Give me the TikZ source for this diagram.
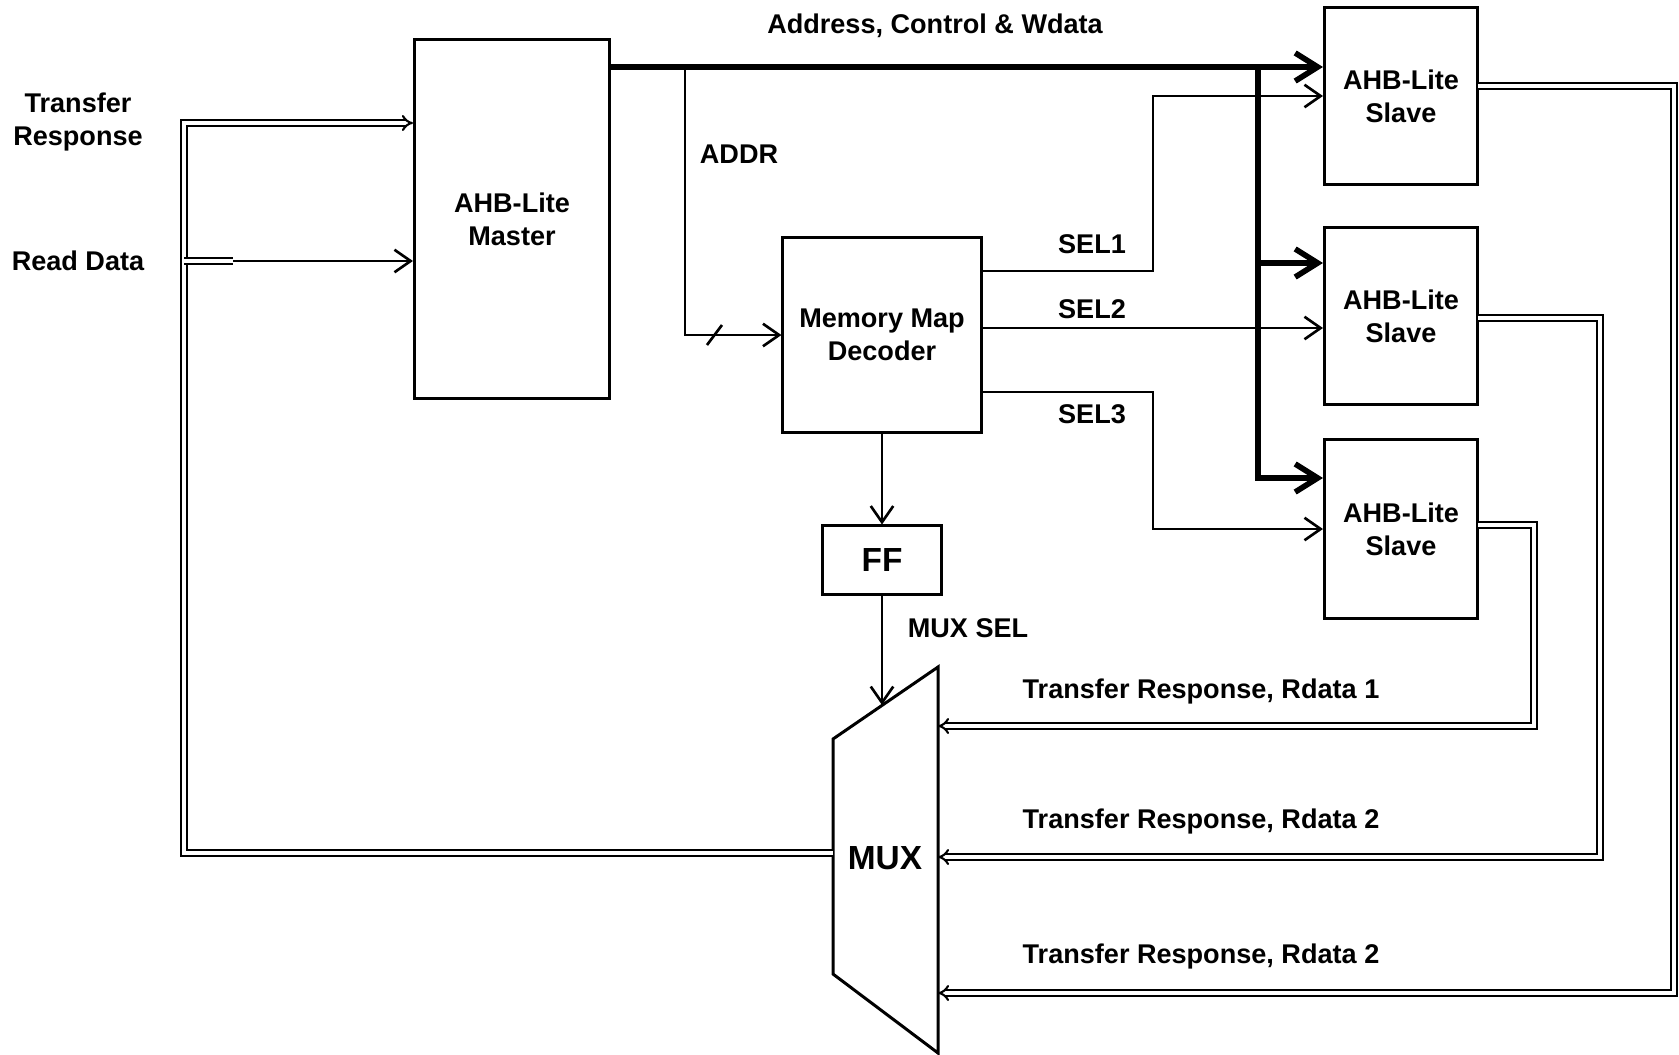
\documentclass[tikz,border=0pt]{standalone}
\usepackage{fontspec}
\setmainfont{Liberation Sans}
\usetikzlibrary{arrows.meta}

\begin{document}
\begin{tikzpicture}[x=0.01cm, y=-0.01cm,
  font=\fontsize{7.7}{9.3}\selectfont\bfseries,
  blk/.style={draw, line width=0.85pt, inner sep=0pt, align=center},
  sig/.style={line width=0.75pt, -{Straight Barb[length=4.6pt,width=6.4pt]}},
  wide/.style={line width=1.6pt, -{Straight Barb[length=6.4pt,width=8pt]}},
  bus/.style={double, line width=0.6pt, double distance=0.9pt},
  busin/.style={bus, -{Implies[length=4pt,width=7pt]}},
  lbl/.style={inner sep=0pt, align=center},
  big/.style={font=\fontsize{9.5}{11}\selectfont\bfseries}]
  \useasboundingbox (0,0) rectangle (1679,1054);
  % blocks
  \node[blk, minimum width=1.95cm, minimum height=3.58cm] (master) at (512,219) {AHB-Lite\\Master};
  \node[blk, minimum width=1.98cm, minimum height=1.94cm] (decoder) at (882,335) {Memory Map\\Decoder};
  \node[blk, big, minimum width=1.18cm, minimum height=0.68cm] (ff) at (882,560) {FF};
  \node[blk, minimum width=1.53cm, minimum height=1.77cm] (slaveA) at (1401,96) {AHB-Lite\\Slave};
  \node[blk, minimum width=1.53cm, minimum height=1.77cm] (slaveB) at (1401,316) {AHB-Lite\\Slave};
  \node[blk, minimum width=1.53cm, minimum height=1.79cm] (slaveC) at (1401,529) {AHB-Lite\\Slave};
  % mux
  \coordinate (m1) at (833,739);
  \coordinate (m2) at (938,667);
  \coordinate (m3) at (938,1053);
  \coordinate (m4) at (833,974);
  \draw[line width=0.85pt] (m1) -- (m2) -- (m3) -- (m4) -- cycle;
  \node[lbl, big] (mux) at (885,858) {MUX};
  % address, control and write data
  \coordinate (adtap) at (685,67);
  \coordinate (bustap) at (1258,67);
  \coordinate (tapB) at (1258,263);
  \coordinate (tapC) at (1258,478);
  \draw[wide] (master.east |- adtap) -- (slaveA.west |- adtap);
  \draw[wide] (bustap) |- (slaveC.west |- tapC);
  \draw[wide] (tapB) -- (slaveB.west |- tapB);
  \draw[sig] (adtap) |- (decoder.west);
  \draw[line width=0.75pt] (707,345) -- (722,325);
  % selects
  \coordinate (d1) at (981,271);
  \coordinate (d2) at (981,328);
  \coordinate (d3) at (981,392);
  \coordinate (selx) at (1153,0);
  \draw[sig] (d1) -- (selx |- d1) |- (slaveA.west);
  \draw[sig] (d2) -- (slaveB.west |- d2);
  \draw[sig] (d3) -- (selx |- d3) |- (slaveC.west);
  \draw[sig] (decoder.south) -- (ff.north);
  \coordinate (muxsel) at (882,705);
  \draw[sig] (ff.south) -- (muxsel);
  % read data back
  \coordinate (oA) at (1478,86);
  \coordinate (oB) at (1478,318);
  \coordinate (oC) at (1478,525);
  \coordinate (rA) at (1674,993);
  \coordinate (rB) at (1600,857);
  \coordinate (rC) at (1534,726);
  \draw[busin] (oA) -| (rA) -- (m2 |- rA);
  \draw[busin] (oB) -| (rB) -- (m2 |- rB);
  \draw[busin] (oC) -| (rC) -- (m2 |- rC);
  \coordinate (mo) at (833,853);
  \coordinate (fb) at (184,123);
  \coordinate (rd) at (184,261);
  \coordinate (rdend) at (233,261);
  \draw[busin] (mo) -| (fb) -- (master.west |- fb);
  \draw[bus] (rd) -- (rdend);
  \draw[sig] (rdend) -- (master.west |- rd);
  % labels
  \node[lbl] (trlbl) at (78,122) {Transfer\\Response};
  \node[lbl] (rdlbl) at (78,261) {Read Data};
  \node[lbl] (aclbl) at (935,26) {Address, Control \& Wdata};
  \node[lbl] (addrlbl) at (739,154) {ADDR};
  \node[lbl] (sel1lbl) at (1092,244) {SEL1};
  \node[lbl] (sel2lbl) at (1092,309) {SEL2};
  \node[lbl] (sel3lbl) at (1092,414) {SEL3};
  \node[lbl] (mslbl) at (968,628) {MUX SEL};
  \node[lbl] (r1lbl) at (1201,691) {Transfer Response, Rdata 1};
  \node[lbl] (r2lbl) at (1201,821) {Transfer Response, Rdata 2};
  \node[lbl] (r3lbl) at (1201,956) {Transfer Response, Rdata 2};
\end{tikzpicture}
\end{document}
